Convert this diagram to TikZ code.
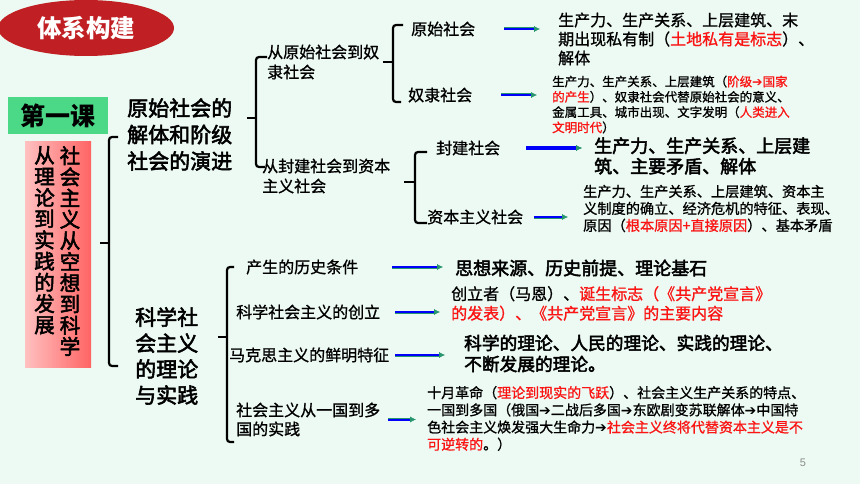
\documentclass[tikz,border=0pt]{standalone}
\usepackage{fontspec}
\setmainfont{Liberation Sans}
\newfontfamily\cjk{Noto Sans CJK SC}
\newfontfamily\cjkm[FakeBold=1]{Noto Sans CJK SC}
\newfontfamily\cjkh[FakeBold=2.6]{Noto Sans CJK SC}
\newfontfamily\sym{DejaVu Sans}
\usetikzlibrary{arrows.meta,shapes.geometric}
\definecolor{bgmint}{RGB}{236,250,243}
\definecolor{titlered}{RGB}{192,32,36}
\definecolor{lessongreen}{RGB}{76,217,135}
\definecolor{pinkL}{RGB}{255,192,192}
\definecolor{pinkR}{RGB}{255,100,100}
\definecolor{hotred}{RGB}{250,20,20}
\definecolor{arrblue}{RGB}{0,0,250}
\definecolor{arrgreen}{RGB}{40,150,110}
\newcommand\hl[1]{\textcolor{hotred}{#1}}
\newcommand\ra{{\sym\symbol{"2794}}}
\begin{document}
\begin{tikzpicture}[x=1pt, y=-1pt, >={Latex[length=6pt,width=6pt,color=arrgreen]},
	lbl/.style={inner sep=0pt, anchor=west, align=left},
	fs/.style 2 args={font=\cjkm\fontsize{#1}{#2}\selectfont},
	hfs/.style 2 args={font=\cjkh\fontsize{#1}{#2}\selectfont},
	bfs/.style 2 args={font=\cjk\bfseries\fontsize{#1}{#2}\selectfont},
	brace/.style={line width=2.2pt, rounded corners=3pt},
	arr/.style={->, draw=arrblue, line width=2pt, preaction={draw=arrgreen, line width=3pt}},
	fatarr/.style={arr, line width=3.4pt, preaction={draw=arrgreen, line width=4.4pt}},
]
	\fill[bgmint] (0,0) rectangle (860,484);
	\useasboundingbox (0,0) rectangle (860,484);

	% title and lesson
	\node[ellipse, fill=titlered, minimum width=176pt, minimum height=56pt, inner sep=0pt,
		text=white, bfs={24.5}{28}] (title) at (86,28) {体系构建};
	\node[fill=lessongreen, minimum width=100pt, minimum height=37pt, inner sep=0pt,
		bfs={25}{28}] (lesson) at (58,115.5) {第一课};
	\shade[left color=pinkL, right color=pinkR] (25,142) rectangle (91,367);
	\node[inner sep=0pt, minimum width=66pt, minimum height=225pt] (topic) at (58,254.5) {};
	\node[inner sep=0pt, anchor=north, align=center, hfs={20.5}{21.2}] (colR) at (70,146)
		{社\\会\\主\\义\\从\\空\\想\\到\\科\\学};
	\node[inner sep=0pt, anchor=north, align=center, hfs={20.5}{21.2}] (colL) at (44.5,146)
		{从\\理\\论\\到\\实\\践\\的\\发\\展};

	% level one
	\path
		(127,134.5) node[lbl, hfs={21}{26.5}] (origin) {原始社会的\\解体和阶级\\社会的演进}
		(135,356) node[lbl, hfs={21}{26}] (science) {科学社\\会主义\\的理论\\与实践}
	;

	% level two
	\path
		(267,62) node[lbl, fs={16}{20}] (toslave) {从原始社会到奴\\隶社会}
		(262,176) node[lbl, fs={16}{20}] (tocap) {从封建社会到资本\\主义社会}
		(411,29) node[lbl, fs={16}{20}] (prim) {原始社会}
		(408,95) node[lbl, fs={16}{20}] (slave) {奴隶社会}
		(436,148) node[lbl, fs={16}{20}] (feud) {封建社会}
		(427,217) node[lbl, fs={16}{20}] (capit) {资本主义社会}
		(246,267) node[lbl, fs={16}{20}] (cond) {产生的历史条件}
		(236,312) node[lbl, fs={16}{20}] (found) {科学社会主义的创立}
		(229,355) node[lbl, fs={16}{20}] (marx) {马克思主义的鲜明特征}
		(236,419.5) node[lbl, fs={16}{19}] (many) {社会主义从一国到多\\国的实践}
	;

	% contents
	\path
		(558,39) node[lbl, fs={16}{19}] (primtx)
			{生产力、生产关系、上层建筑、末\\期出现私有制（\hl{土地私有是标志}）、\\解体}
		(552,104.5) node[lbl, fs={12.5}{15.3}] (slavetx)
			{生产力、生产关系、上层建筑（\hl{阶级\ra 国家}\\\hl{的产生}）、奴隶社会代替原始社会的意义、\\金属工具、城市出现、文字发明（\hl{人类进入}\\\hl{文明时代}）}
		(594,156) node[lbl, hfs={18}{20.5}] (feudtx)
			{生产力、生产关系、上层建\\筑、主要矛盾、解体}
		(583,208.5) node[lbl, fs={14.2}{17}] (capittx)
			{生产力、生产关系、上层建筑、资本主\\义制度的确立、经济危机的特征、表现、\\原因（\hl{根本原因+直接原因}）、基本矛盾}
		(455,268) node[lbl, hfs={18}{20}] (condtx) {思想来源、历史前提、理论基石}
		(451,303.5) node[lbl, fs={16}{19.5}] (foundtx)
			{创立者（马恩）、\hl{诞生标志（《共产党宣言》}\\\hl{的发表）、《共产党宣言》的主要内容}}
		(464,353.5) node[lbl, hfs={17.7}{21}] (marxtx)
			{科学的理论、人民的理论、实践的理论、\\不断发展的理论。}
		(427,418.5) node[lbl, fs={14}{17.2}] (manytx)
			{十月革命（\hl{理论到现实的飞跃}）、社会主义生产关系的特点、\\一国到多国（俄国\ra 二战后多国\ra 东欧剧变苏联解体\ra 中国特\\色社会主义焕发强大生命力\ra\hl{社会主义终将代替资本主义是不}\\\hl{可逆转的}。）}
		(803,463) node[text=black!45, font=\fontsize{11}{13}\selectfont] (pagenum) {5}
	;

	% braces
	\path
		(100,243) coordinate (b1m) (118,137) coordinate (b1t) (118,366) coordinate (b1b)
		(247,118) coordinate (b2m) (267,57) coordinate (b2t) (265,167) coordinate (b2b)
		(383,62) coordinate (b3m) (403,25) coordinate (b3t) (401,102) coordinate (b3b)
		(404,182) coordinate (b4m) (427,152) coordinate (b4t) (427,223) coordinate (b4b)
		(218,337) coordinate (b5m) (234,267) coordinate (b5t) (234,442) coordinate (b5b)
	;
	\draw[brace] (b1t) -- (109,137) -- (109,366) -- (b1b);
	\draw[brace] (b1m) -- (109,243);
	\draw[brace] (b2t) -- (256,57) -- (256,167) -- (b2b);
	\draw[brace] (b2m) -- (256,118);
	\draw[brace] (b3t) -- (393,25) -- (393,102) -- (b3b);
	\draw[brace] (b3m) -- (393,62);
	\draw[brace] (b4t) -- (415,152) -- (415,223) -- (b4b);
	\draw[brace] (b4m) -- (415,182);
	\draw[brace] (b5t) -- (227,267) -- (227,442) -- (b5b);
	\draw[brace] (b5m) -- (227,337);

	% arrows
	\draw[arr, shorten <=29pt, shorten >=18pt] (prim.east) -- (prim.east -| primtx.west);
	\draw[arr, shorten <=29pt, shorten >=15pt] (slave.east) -- (slave.east -| slavetx.west);
	\draw[fatarr, shorten <=26pt, shorten >=12pt] (feud.east) -- (feud.east -| feudtx.west);
	\draw[arr, shorten <=11pt, shorten >=15pt] (capit.east) -- (capit.east -| capittx.west);
	\draw[arr, shorten <=34pt, shorten >=12pt] (cond.east) -- (cond.east -| condtx.west);
	\draw[arr, shorten <=15pt, shorten >=11pt] (found.east) -- (found.east -| foundtx.west);
	\draw[arr, shorten <=6pt, shorten >=19pt] (marx.east) -- (marx.east -| marxtx.west);
	\draw[arr, shorten <=8pt, shorten >=11pt] (many.east) -- (many.east -| manytx.west);
\end{tikzpicture}
\end{document}
